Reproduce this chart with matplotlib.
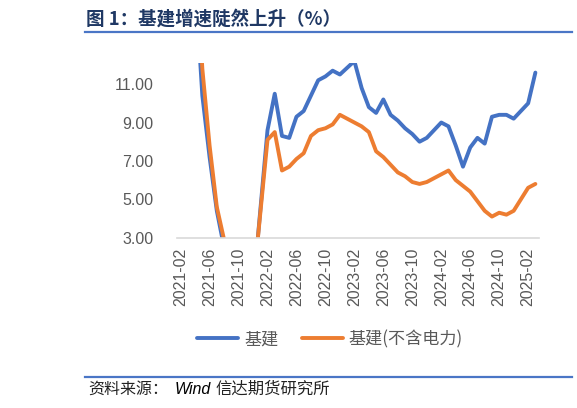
import numpy as np
import pandas as pd
import matplotlib
matplotlib.use("Agg")
import matplotlib.pyplot as plt
from matplotlib.lines import Line2D

# monthly categories 2021-02 .. 2025-03 (January has no release, kept as NaN)
months = [p.strftime("%Y-%m") for p in pd.period_range("2021-02", "2025-03", freq="M")]

infra_total = [35.0, 26.8, 16.4, 10.4, 7.2, 4.4, 2.5, 1.5, 1.0, 0.5, 0.2,
               np.nan, 8.6, 10.5, 8.3, 8.2, 9.3, 9.6, 10.4, 11.2, 11.4, 11.7, 11.5,
               np.nan, 12.2, 10.8, 9.8, 9.5, 10.2, 9.4, 9.1, 8.7, 8.4, 8.0, 8.2,
               np.nan, 9.0, 8.8, 7.8, 6.7, 7.7, 8.2, 7.9, 9.3, 9.4, 9.4, 9.2,
               np.nan, 10.0, 11.6]
infra_ex_power = [36.6, 29.7, 18.4, 11.8, 7.8, 4.6, 2.9, 1.5, 1.0, 0.5, 0.4,
                  np.nan, 8.1, 8.5, 6.5, 6.7, 7.1, 7.4, 8.3, 8.6, 8.7, 8.9, 9.4,
                  np.nan, 9.0, 8.8, 8.5, 7.5, 7.2, 6.8, 6.4, 6.2, 5.9, 5.8, 5.9,
                  np.nan, 6.3, 6.5, 6.0, 5.7, 5.4, 4.9, 4.4, 4.1, 4.3, 4.2, 4.4,
                  np.nan, 5.6, 5.8]

y_ticks = [3, 5, 7, 9, 11]
y_labels = ["3.00", "5.00", "7.00", "9.00", "11.00"]
series_names = ["基建", "基建(不含电力)"]

cjk = ["Noto Sans CJK SC", "DejaVu Sans"]
plt.rcParams["font.family"] = ["Liberation Sans", "Noto Sans CJK SC"]

W, H = 577, 408
fig = plt.figure(figsize=(W / 100, H / 100), dpi=100)
ax = fig.add_axes([177 / W, 1 - 237.7 / H, (539 - 177) / W, (237.7 - 63) / H])

x = np.arange(len(months))
for vals, color, name in [(infra_total, "#4472C4", series_names[0]),
                          (infra_ex_power, "#ED7D31", series_names[1])]:
    v = np.array(vals, dtype=float)
    ok = ~np.isnan(v)
    ax.plot(x[ok], v[ok], color=color, lw=2.8, solid_joinstyle="round",
            solid_capstyle="round", label=name)

ax.set_xlim(-0.5, len(months) - 0.5)
ax.set_ylim(3, 12.1)
ax.set_yticks(y_ticks)
ax.set_yticklabels(y_labels)
ax.set_xticks(x[::4])
ax.set_xticklabels(months[::4], rotation=90)
ax.tick_params(axis="y", length=0, pad=17, labelsize=11.5, labelcolor="#595959")
ax.tick_params(axis="x", length=0, pad=7, labelsize=11.5, labelcolor="#595959")
for s in ["left", "right", "top"]:
    ax.spines[s].set_visible(False)
ax.spines["bottom"].set_color("#d9d9d9")
ax.spines["bottom"].set_linewidth(1.2)

fig.legend(loc="center", bbox_to_anchor=(0.572, 1 - 339 / H), ncol=2,
           frameon=False, prop={"family": cjk, "size": 12.3},
           labelcolor="#595959", handlelength=2.4, handletextpad=0.35,
           columnspacing=1.35)

# title and rules
fig.text(86 / W, 1 - 19.5 / H, "图 1：基建增速陡然上升（%）", ha="left", va="center",
         fontsize=13.3, fontweight="bold", color="#1f3864", family=cjk)
fig.add_artist(Line2D([85 / W, 572 / W], [1 - 32 / H, 1 - 32 / H],
                      color="#4a76c6", lw=1.6))
fig.add_artist(Line2D([85 / W, 572 / W], [1 - 376.7 / H, 1 - 376.7 / H],
                      color="#4a76c6", lw=1.6))

# source
src_y = 1 - 389.5 / H
fig.text(88 / W, src_y, "资料来源：", ha="left", va="center", fontsize=11.5,
         style="italic", color="#222222", family=cjk)
fig.text(175 / W, src_y, "Wind", ha="left", va="center", fontsize=11.5,
         style="italic", color="#000000", family=["Liberation Sans"])
fig.text(215 / W, src_y, "信达期货研究所", ha="left", va="center", fontsize=11.8,
         style="italic", color="#222222", family=cjk)

fig.savefig("out.png", dpi=100)
